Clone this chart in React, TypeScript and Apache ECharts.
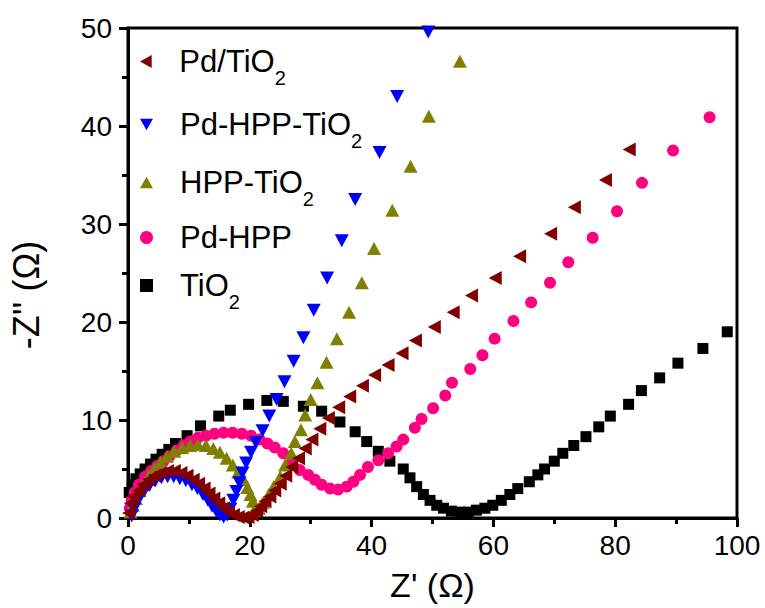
import React, { useEffect, useRef } from 'react';
import * as echarts from 'echarts';

const seriesNames = ['Pd/TiO2', 'Pd-HPP-TiO2', 'HPP-TiO2', 'Pd-HPP', 'TiO2'];
const xTicks = [0, 20, 40, 60, 80, 100];
const yTicks = [0, 10, 20, 30, 40, 50];

const pdTio2: number[][] = [
  [0.1, 0.5], [0.4, 1.5], [0.9, 2.2], [1.7, 2.8], [2.5, 3.4], [3.4, 3.9], [4.4, 4.3], [5.4, 4.6],
  [6.5, 4.8], [7.6, 4.8], [8.7, 4.6], [9.7, 4.3], [10.7, 3.9], [11.6, 3.5], [12.5, 3.0], [13.3, 2.5],
  [14.1, 2.0], [14.9, 1.5], [15.7, 1.0], [16.5, 0.6], [17.3, 0.3], [18.1, 0.1], [18.9, 0.05], [19.7, 0.1],
  [20.4, 0.3], [21.1, 0.7], [21.8, 1.2], [22.5, 1.7], [23.3, 2.2], [24.1, 2.8], [25.0, 3.5], [25.9, 4.3],
  [26.9, 5.2], [28.0, 6.1], [29.1, 7.1], [30.2, 8.0], [31.5, 9.1], [32.9, 10.2], [34.6, 11.3], [36.4, 12.4],
  [38.5, 13.5], [40.5, 14.6], [42.7, 15.6], [45.0, 16.8], [47.2, 18.1], [50.3, 19.5], [53.4, 21.0],
  [56.4, 22.7], [60.3, 24.5], [64.3, 26.7], [69.4, 29.0], [73.3, 31.7], [78.4, 34.5], [82.3, 37.6],
];

const pdHppTio2: number[][] = [
  [0.6, 0.2], [1.0, 0.9], [1.5, 1.6], [2.1, 2.3], [2.8, 2.9], [3.6, 3.4], [4.5, 3.8], [5.5, 4.1],
  [6.5, 4.2], [7.5, 4.2], [8.5, 4.0], [9.5, 3.8], [10.5, 3.4], [11.4, 3.0], [12.3, 2.4], [13.1, 1.8],
  [13.8, 1.2], [14.5, 0.7], [15.1, 0.3], [15.7, 0.1], [16.3, 0.3], [16.8, 0.9], [17.3, 1.8], [17.8, 2.7],
  [18.3, 3.6], [18.8, 4.6], [19.4, 5.6], [20.2, 6.7], [21.0, 7.7], [22.1, 8.9], [23.2, 10.4], [24.4, 12.1],
  [25.7, 13.9], [27.2, 16.0], [28.8, 18.4], [30.5, 21.2], [32.7, 24.5], [35.1, 28.3], [37.3, 32.5],
  [41.3, 37.3], [44.2, 43.0], [49.3, 49.6],
];

const hppTio2: number[][] = [
  [0.4, 0.6], [0.8, 1.3], [1.3, 2.0], [1.9, 2.8], [2.6, 3.5], [3.4, 4.3], [4.3, 5.0], [5.3, 5.7],
  [6.4, 6.3], [7.6, 6.8], [8.9, 7.2], [10.2, 7.4], [11.5, 7.5], [12.8, 7.4], [14.0, 7.1], [15.1, 6.7],
  [16.2, 6.1], [17.2, 5.4], [18.1, 4.7], [19.0, 3.9], [19.6, 3.1], [20.1, 2.4], [20.5, 1.7], [21.0, 1.1],
  [21.5, 1.0], [22.2, 1.6], [23.1, 2.4], [23.9, 3.2], [25.0, 4.2], [25.8, 5.4], [26.8, 6.6], [27.4, 7.8],
  [28.4, 9.0], [29.1, 10.5], [30.0, 12.1], [31.1, 13.8], [32.6, 15.9], [34.3, 18.3], [36.3, 21.0],
  [38.4, 24.0], [40.4, 27.5], [43.4, 31.4], [46.4, 35.9], [49.4, 41.0], [54.5, 46.6],
];

const pdHpp: number[][] = [
  [0.3, 1.0], [0.6, 1.8], [1.1, 2.6], [1.8, 3.4], [2.8, 4.2], [3.8, 4.8], [4.8, 5.3], [5.8, 5.8],
  [6.8, 6.3], [8.0, 6.9], [9.1, 7.4], [10.2, 7.8], [11.5, 8.2], [12.8, 8.4], [14.2, 8.6], [15.7, 8.7],
  [17.2, 8.7], [18.7, 8.6], [20.2, 8.4], [21.6, 8.0], [22.9, 7.6], [24.1, 7.2], [25.5, 6.6], [26.9, 5.6],
  [28.2, 4.9], [29.6, 4.4], [30.7, 3.9], [31.8, 3.4], [33.2, 3.0], [34.5, 2.9], [35.9, 3.2], [37.0, 3.7],
  [38.1, 4.4], [39.4, 5.2], [41.1, 5.9], [42.7, 6.6], [44.1, 7.3], [45.2, 8.0], [47.1, 9.2], [48.2, 10.1],
  [50.1, 11.2], [52.1, 12.5], [53.2, 13.8], [56.2, 15.2], [58.2, 16.6], [60.2, 18.3], [63.3, 20.1],
  [66.2, 22.0], [69.3, 24.0], [72.3, 26.1], [76.3, 28.6], [80.3, 31.3], [84.4, 34.2], [89.5, 37.5], [95.5, 40.9],
];

const tio2: number[][] = [
  [0.2, 2.6], [0.7, 3.4], [1.3, 4.0], [2.0, 4.5], [2.8, 5.0], [3.7, 5.5], [4.6, 6.0], [5.6, 6.5],
  [6.7, 7.0], [7.8, 7.6], [9.7, 8.4], [11.9, 9.4], [14.9, 10.4], [16.8, 11.0], [19.8, 11.6], [22.8, 12.0],
  [25.5, 11.9], [28.8, 11.4], [31.8, 10.9], [34.8, 9.8], [37.3, 8.8], [39.2, 7.8], [41.1, 6.8], [43.0, 5.8],
  [45.2, 5.0], [46.3, 4.1], [47.4, 3.2], [48.5, 2.4], [49.6, 1.8], [50.7, 1.3], [51.8, 1.0], [53.1, 0.7],
  [54.5, 0.6], [55.9, 0.6], [57.2, 0.8], [58.6, 1.0], [59.9, 1.3], [61.3, 1.8], [62.7, 2.4], [64.0, 3.0],
  [65.9, 3.7], [67.3, 4.4], [68.4, 5.0], [70.0, 5.8], [71.4, 6.6], [73.2, 7.4], [75.2, 8.3], [77.3, 9.3],
  [79.2, 10.4], [82.2, 11.6], [84.3, 13.0], [87.3, 14.3], [90.3, 15.8], [94.4, 17.3], [98.4, 19.0],
];

const FONT = "'Liberation Sans', Arial, sans-serif";
const TRI_UP = 'path://M5,0L10,9L0,9Z';
const TRI_DOWN = 'path://M0,0L10,0L5,9Z';
const TRI_LEFT = 'path://M0,5L9,0L9,10Z';

export default function App() {
  const ref = useRef<HTMLDivElement>(null);
  useEffect(() => {
    document.body.style.margin = '0';
    if (!ref.current) return;
    const chart = echarts.init(ref.current, undefined, { renderer: 'svg' });

    const SUB_PAD = 32;
    const subH = Math.max(36, 19 + SUB_PAD);
    const centers = [61, 124, 182, 240, 285];
    const legendFormatter = (name: string) =>
      name.endsWith('TiO2') ? `{m|${name.slice(0, -1)}}{s|2}` : `{m|${name}}`;

    const legends = seriesNames.map((n, i) => {
      const h = n.endsWith('TiO2') ? subH : 36;
      return {
        data: [n],
        orient: 'vertical',
        left: 140,
        top: centers[i] - h / 2,
        padding: 0,
        itemWidth: 13,
        itemHeight: 13,
        selectedMode: false,
        formatter: legendFormatter,
        textStyle: {
          color: '#000',
          fontFamily: FONT,
          rich: {
            m: { fontSize: 31, lineHeight: 36, fontFamily: FONT, color: '#000', padding: [0, 0, 0, 22] },
            s: { fontSize: 20, lineHeight: 19, fontFamily: FONT, color: '#000', padding: [SUB_PAD, 0, 0, 0] },
          },
        },
      };
    });

    const mk = (name: string, data: number[][], symbol: string, size: number | number[], color: string) => ({
      name,
      type: 'scatter',
      data,
      symbol,
      symbolSize: size,
      itemStyle: { color, opacity: 1 },
      emphasis: { disabled: true },
    });

    chart.setOption({
      animation: false,
      backgroundColor: '#fff',
      grid: {
        left: 126,
        right: 28,
        top: 28,
        bottom: 90,
        show: true,
        borderColor: '#000',
        borderWidth: 3,
        backgroundColor: 'transparent',
      },
      legend: legends,
      xAxis: {
        type: 'value',
        min: 0,
        max: 100,
        interval: 20,
        name: "Z' (Ω)",
        nameLocation: 'middle',
        nameGap: 50,
        nameTextStyle: { fontSize: 34, fontFamily: FONT, color: '#000' },
        axisLine: { show: true, onZero: false, lineStyle: { color: '#000', width: 3 } },
        axisTick: { show: true, inside: false, length: 9, lineStyle: { color: '#000', width: 3 } },
        minorTick: { show: true, splitNumber: 2, length: 6, lineStyle: { color: '#000', width: 3 } },
        axisLabel: {
          fontSize: 28, fontFamily: FONT, color: '#000', margin: 13,
          formatter: (v: number) => (xTicks.includes(v) ? String(v) : ''),
        },
        splitLine: { show: false },
      },
      yAxis: {
        type: 'value',
        min: 0,
        max: 50,
        interval: 10,
        name: "-Z'' (Ω)",
        nameLocation: 'middle',
        nameGap: 84,
        nameTextStyle: { fontSize: 36, fontFamily: FONT, color: '#000', padding: [0, 44, 0, 0] },
        axisLine: { show: true, onZero: false, lineStyle: { color: '#000', width: 3 } },
        axisTick: { show: true, inside: false, length: 9, lineStyle: { color: '#000', width: 3 } },
        minorTick: { show: true, splitNumber: 2, length: 6, lineStyle: { color: '#000', width: 3 } },
        axisLabel: {
          fontSize: 28, fontFamily: FONT, color: '#000', margin: 16,
          formatter: (v: number) => (yTicks.includes(v) ? String(v) : ''),
        },
        splitLine: { show: false },
      },
      series: [
        mk('TiO2', tio2, 'rect', 11, '#000000'),
        mk('Pd-HPP', pdHpp, 'circle', 12, '#FF0080'),
        mk('HPP-TiO2', hppTio2, TRI_UP, [14, 13], '#808000'),
        mk('Pd-HPP-TiO2', pdHppTio2, TRI_DOWN, [14, 13], '#0000FF'),
        mk('Pd/TiO2', pdTio2, TRI_LEFT, [13, 14], '#800000'),
      ],
    });
    return () => chart.dispose();
  }, []);
  return <div ref={ref} style={{ width: 765, height: 608 }} />;
}
